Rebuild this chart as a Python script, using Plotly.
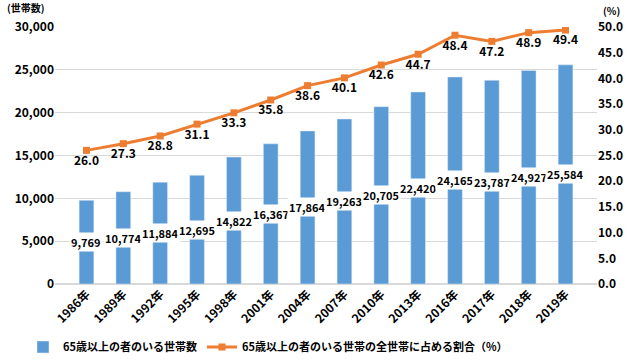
import plotly.graph_objects as go

years = ["1986年", "1989年", "1992年", "1995年", "1998年", "2001年", "2004年",
         "2007年", "2010年", "2013年", "2016年", "2017年", "2018年", "2019年"]
households = [9769, 10774, 11884, 12695, 14822, 16367, 17864,
              19263, 20705, 22420, 24165, 23787, 24927, 25584]
share = [26.0, 27.3, 28.8, 31.1, 33.3, 35.8, 38.6,
         40.1, 42.6, 44.7, 48.4, 47.2, 48.9, 49.4]

bar_name = "65歳以上の者のいる世帯数"
line_name = "65歳以上の者のいる世帯の全世帯に占める割合（%）"

FONT = "Noto Sans CJK JP"
BLUE = "#5B9BD5"
ORANGE = "#ED7D31"

W, H = 640, 361

fig = go.Figure()
fig.add_trace(go.Bar(
    x=years, y=households, name=bar_name, marker_color=BLUE,
    yaxis="y",
))
fig.add_trace(go.Scatter(
    x=years, y=share, name=line_name, yaxis="y2",
    mode="lines+markers+text",
    line=dict(color=ORANGE, width=3),
    marker=dict(symbol="square", size=7, color=ORANGE),
    text=[f"{v:.1f}" for v in share],
    textposition="bottom center",
    textfont=dict(family=FONT, size=12, color="#000000", weight="bold"),
))

annotations = []
for yr, v in zip(years, households):
    annotations.append(dict(
        x=yr, y=v / 2, xref="x", yref="y", text=f"{v:,}",
        showarrow=False, bgcolor="white", borderpad=1,
        font=dict(family=FONT, size=11, color="#000000", weight="bold"),
    ))
annotations.append(dict(x=0, y=1, xref="paper", yref="paper", xanchor="left", yanchor="middle",
                        text="(世帯数)", showarrow=False, xshift=-50, yshift=20,
                        font=dict(family=FONT, size=10, color="#000000", weight="bold")))
annotations.append(dict(x=1, y=1, xref="paper", yref="paper", xanchor="left", yanchor="middle",
                        text="(%)", showarrow=False, xshift=4, yshift=17,
                        font=dict(family=FONT, size=10, color="#000000", weight="bold")))

fig.update_layout(
    width=W, height=H,
    margin=dict(l=55, r=43, t=27, b=77, autoexpand=False),
    paper_bgcolor="white", plot_bgcolor="white",
    font=dict(family=FONT, size=12, color="#000000"),
    bargap=0.6,
    showlegend=True,
    legend=dict(orientation="h", xref="container", yref="container",
                x=23 / W, xanchor="left", y=14 / H, yanchor="middle",
                bgcolor="rgba(0,0,0,0)",
                font=dict(family=FONT, size=11, color="#000000", weight="bold"),
                itemwidth=30, tracegroupgap=0),
    xaxis=dict(tickangle=-45, showgrid=False, showline=False, ticks="", automargin=False,
               tickfont=dict(family=FONT, size=12, weight="bold")),
    yaxis=dict(range=[0, 30000], dtick=5000, tickformat=",", showgrid=True, automargin=False,
               gridcolor="#D9D9D9", zeroline=True, zerolinecolor="#D9D9D9",
               tickfont=dict(family=FONT, size=12, weight="bold")),
    yaxis2=dict(range=[0, 50], dtick=5, tickformat=".1f", overlaying="y", side="right",
                showgrid=False, zeroline=False, automargin=False,
                tickfont=dict(family=FONT, size=12, weight="bold")),
    annotations=annotations,
)

fig.write_html("out.html", config={"displayModeBar": False},
               post_script="document.body.style.margin='0';document.body.style.overflow='hidden';")
